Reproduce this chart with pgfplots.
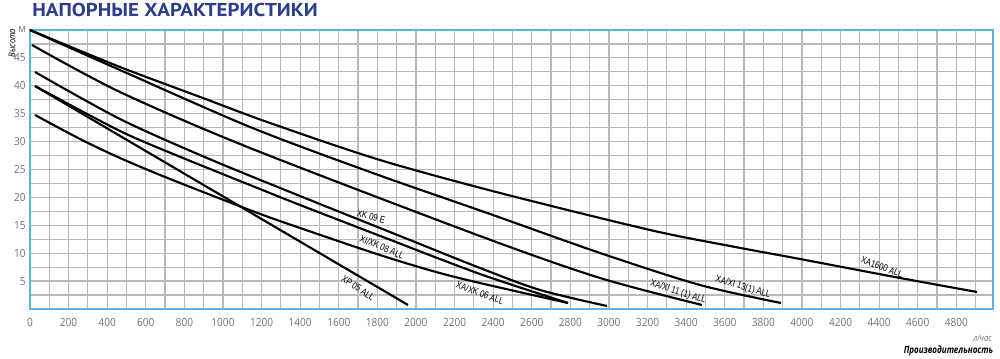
\documentclass[border=0pt]{standalone}
\usepackage{fontspec}
\usepackage{pgfplots}
\pgfplotsset{compat=1.18}
\setmainfont{Open Sans}
\newfontfamily\titlefont[FakeStretch=1.12]{PT Sans}
\newfontfamily\lblfont[FakeStretch=0.8]{Liberation Sans}
\newfontfamily\condfont[FakeStretch=0.8]{Open Sans}
\newfontfamily\tickfont[FakeStretch=0.9]{Open Sans}
\definecolor{titleblue}{RGB}{45,60,140}
\definecolor{frameblue}{RGB}{86,182,222}
\definecolor{gridgray}{RGB}{185,185,185}
\definecolor{tickgray}{RGB}{115,115,115}
\begin{document}
\begin{tikzpicture}
\path[use as bounding box] (0,0) rectangle (750pt,269.25pt);
\node[anchor=base west, inner sep=0pt, text=titleblue, font=\titlefont\bfseries\fontsize{14}{14}\selectfont] at (24pt,256.5pt) {НАПОРНЫЕ ХАРАКТЕРИСТИКИ};
\begin{axis}[
 at={(22.5pt,37.5pt)}, anchor=south west,
 scale only axis, width=722.25pt, height=209.25pt,
 xmin=0, xmax=4990, ymin=0, ymax=50,
 xtick={0,200,...,4800}, minor xtick={100,300,...,4900},
 ytick={5,10,...,50}, yticklabels={5,10,15,20,25,30,35,40,45,м},
 minor ytick={2.5,7.5,...,47.5},
 grid=both, grid style={gridgray, line width=0.9pt}, minor grid style={gridgray, line width=0.9pt},
 major tick length=0pt, minor tick length=0pt,
 axis line style={frameblue, line width=1.2pt},
 ticklabel style={font=\tickfont\fontsize{8.4}{8.4}\selectfont, text=tickgray},
 /pgf/number format/assume math mode=true,
 /pgf/number format/1000 sep={},
 xticklabel style={anchor=north, inner sep=0pt, yshift=-6.5pt},
 yticklabel style={anchor=east, inner sep=0pt, xshift=-3pt},
 clip=false,
]
% XA1600 ALL
\addplot[black, line width=1.6pt, smooth] coordinates {(0,50) (466.3,43.37) (881.4,38.0) (1243.6,33.33) (1813.6,26.7) (2435.4,20.79) (3212.6,14.16) (3627.1,11.29) (3989.8,8.96) (4508,5.56) (4907,3.05)};
% XA/XI 13(1) ALL
\addplot[black, line width=1.6pt, smooth] coordinates {(0,50) (466.3,42.83) (1140,32.62) (1761.8,24.55) (2383.5,17.03) (2953.5,10.04) (3471.7,4.3) (3891.4,1.08)};
% XA/XI 11 (1) ALL
\addplot[black, line width=1.6pt, smooth] coordinates {(10.4,47.31) (466.3,38.89) (1140,28.85) (2331.7,13.08) (2953.5,5.56) (3482.1,0.72)};
% XK 09 E
\addplot[black, line width=1.6pt, smooth] coordinates {(25.9,42.47) (466.3,34.05) (917.2,27.06) (1399,20.25) (1917.2,13.08) (2331.7,7.35) (2642.6,3.41) (2989.8,0.54)};
% XI/XK 08 ALL
\addplot[black, line width=1.6pt, smooth] coordinates {(25.9,39.96) (466.3,31.9) (792.8,27.06) (1140,22.22) (1399,18.64) (1829.1,12.9) (2331.7,6.27) (2787.7,1.08)};
% XA/XK 06 ALL
\addplot[black, line width=1.6pt, smooth] coordinates {(25.9,34.77) (259.1,30.47) (466.3,27.06) (725.4,23.3) (1165.9,17.38) (1399,14.52) (1829.1,9.5) (2202.2,5.73) (2787.7,1.08)};
% XP 05 ALL
\addplot[black, line width=1.6pt] coordinates {(25.9,39.96) (466.3,31.02) (1958.7,0.72)};
\tikzset{lbl/.style={font=\lblfont\fontsize{7.3}{7.3}\selectfont, inner sep=0pt}}
\node[lbl, rotate=-14] at (axis cs:1767,16.5) {XK 09 E};
\node[lbl, rotate=-23] at (axis cs:1824,11.1) {XI/XK 08 ALL};
\node[lbl, rotate=-34] at (axis cs:1700,3.76) {XP 05 ALL};
\node[lbl, rotate=-20] at (axis cs:2332,2.87) {XA/XK 06 ALL};
\node[lbl, rotate=-18] at (axis cs:3358,3.05) {XA/XI 11 (1) ALL};
\node[lbl, rotate=-16] at (axis cs:3694,3.9) {XA/XI 13(1) ALL};
\node[lbl, rotate=-20] at (axis cs:4415,7.5) {XA1600 ALL};
\end{axis}
\node[rotate=90, inner sep=0pt, font=\condfont\itshape\fontsize{7}{7}\selectfont] at (9pt,237pt) {Высота};
\node[anchor=east, inner sep=0pt, text=tickgray, font=\condfont\itshape\fontsize{7}{7}\selectfont] at (744pt,15.75pt) {л/час};
\node[anchor=east, inner sep=0pt, font=\condfont\bfseries\itshape\fontsize{7.5}{7.5}\selectfont] at (745pt,6pt) {Производительность};
\end{tikzpicture}
\end{document}
